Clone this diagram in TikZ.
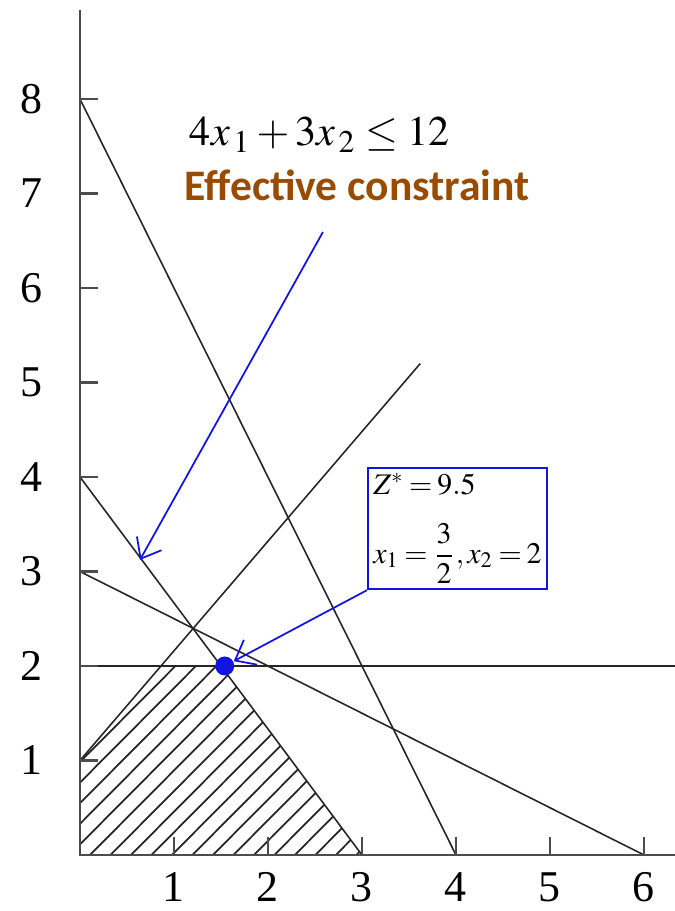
\documentclass[tikz,border=0pt]{standalone}
\usepackage{amsmath}
\usepackage{mathptmx}
\usepackage{fontspec}
\setmainfont{Liberation Serif}
\newfontfamily\calibri{Carlito}
\usetikzlibrary{arrows.meta}
\definecolor{effbrown}{RGB}{153,76,0}
\definecolor{optblue}{RGB}{20,20,225}

\begin{document}
\begin{tikzpicture}[x=0.94cm, y=0.945cm,
    cline/.style={black!85, line width=0.45pt},
    hatchline/.style={black!85, line width=0.5pt},
    axisline/.style={black!70, line width=0.6pt},
    callout/.style={optblue, line width=0.5pt, -{Straight Barb[length=5pt,width=8pt]}},
    ticklab/.style={font=\fontsize{12.5}{14}\selectfont}]

  \useasboundingbox (-0.851,-0.593) rectangle (6.330,9.048);

  % Parameters
  \def\xmax{6.33}   % right end of the x axis
  \def\ymax{8.94}   % top of the y axis
  \def\tick{0.19}   % tick length
  \def\gap{0.218}   % hatch spacing along the x axis

  % --- Feasible region (hatched) ---
  \begin{scope}
    \clip (0,0) -- (0,1) -- (0.862,2) -- (1.5,2) -- (3,0) -- cycle;
    \foreach \i in {-16,...,16} {
      \pgfmathsetmacro{\hx}{\i*\gap+0.106}
      \draw[hatchline] (\hx,0) -- (\hx+3,3);
    }
  \end{scope}

  % --- Constraint lines ---
  \draw[cline] (0,8) -- (4,0);
  \draw[cline] (0,4) -- (3,0);
  \draw[cline] (0,3) -- (6,0);
  \draw[cline] (0,1) -- (3.62,5.2);
  \draw[cline] (0,2) -- (\xmax,2);

  % --- Axes and ticks ---
  \draw[axisline] (0,\ymax) -- (0,0) -- (\xmax,0);
  \foreach \k in {1,...,8} {
    \draw[axisline] (0,\k) -- ++(\tick,0);
    \node[ticklab] (yl\k) at (-0.52,\k) {\k};
  }
  \foreach \k in {1,...,6} {
    \draw[axisline] (\k,0) -- ++(0,\tick);
    \node[ticklab] (xl\k) at (\k,-0.34) {\k};
  }

  % --- Optimum point ---
  \node[circle, fill=optblue, inner sep=0pt, minimum size=0.19cm] (opt) at (1.54,2) {};

  % --- Solution box ---
  \node[draw=optblue, line width=0.6pt, anchor=north west, align=left,
        minimum width=1.73cm, minimum height=1.21cm, inner sep=1.5pt,
        font=\fontsize{8.5}{10}\selectfont] (sol) at (3.053,4.106)
    {$\thickmuskip=3mu Z^{*}=9.5$\\[7pt]
     $\thickmuskip=3mu x_1=\dfrac{3}{2},x_2=2$};
  \draw[callout] (sol.south west) -- (opt);

  % --- Effective constraint label ---
  \node[font=\fontsize{12}{14}\selectfont] (ineq) at (2.553,7.62) {$4x_{\,1}+3x_{\,2}\leq 12$};
  \node[font=\calibri\bfseries\fontsize{12.4}{14}\selectfont, text=effbrown] (eff) at (2.947,7.09)
    {Effective constraint};
  \coordinate (tail) at (2.585,6.593);
  \coordinate (head) at (0.638,3.122);
  \draw[callout] (tail) -- (head);
\end{tikzpicture}
\end{document}
